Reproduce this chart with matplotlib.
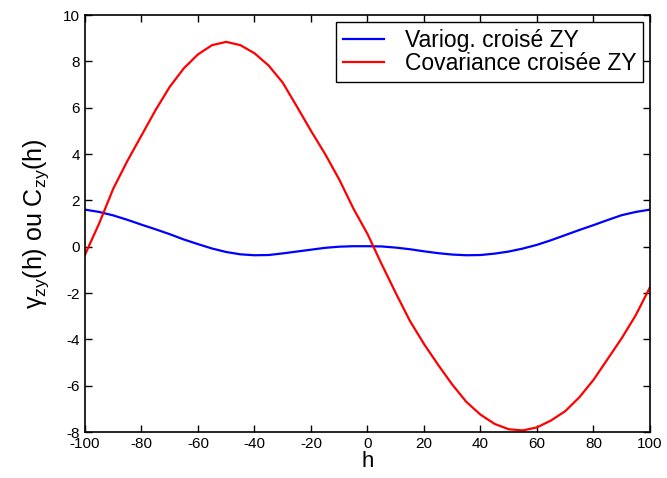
import matplotlib
matplotlib.use('Agg')
import matplotlib.pyplot as plt

plt.rcParams['font.family'] = ['Liberation Sans', 'DejaVu Sans']
plt.rcParams['mathtext.fontset'] = 'custom'
plt.rcParams['mathtext.rm'] = 'Liberation Sans'
plt.rcParams['mathtext.it'] = 'Liberation Sans'
plt.rcParams['mathtext.bf'] = 'Liberation Sans:bold'
plt.rcParams['axes.unicode_minus'] = False

# lags h
h = [-100, -95, -90, -85, -80, -75, -70, -65, -60, -55, -50, -45, -40, -35,
     -30, -25, -20, -15, -10, -5, 0, 5, 10, 15, 20, 25, 30, 35, 40, 45, 50,
     55, 60, 65, 70, 75, 80, 85, 90, 95, 100]

# cross variogram ZY
gamma_zy = [1.6, 1.5, 1.35, 1.16, 0.95, 0.75, 0.54, 0.31, 0.11, -0.08, -0.23,
            -0.33, -0.37, -0.36, -0.29, -0.21, -0.13, -0.05, 0.0, 0.02, 0.02,
            0.01, -0.04, -0.11, -0.2, -0.28, -0.34, -0.37, -0.36, -0.3, -0.21,
            -0.08, 0.08, 0.28, 0.5, 0.72, 0.93, 1.15, 1.36, 1.5, 1.6]

# cross covariance ZY
c_zy = [-0.35, 1.0, 2.5, 3.7, 4.8, 5.9, 6.9, 7.7, 8.3, 8.7, 8.84, 8.7, 8.35,
        7.82, 7.08, 6.05, 5.0, 4.0, 2.9, 1.65, 0.55, -0.75, -2.0, -3.2, -4.2,
        -5.1, -5.95, -6.7, -7.25, -7.65, -7.88, -7.93, -7.8, -7.5, -7.1, -6.5,
        -5.75, -4.85, -3.95, -2.95, -1.75]

xticks = list(range(-100, 101, 20))
yticks = list(range(-8, 11, 2))

fig = plt.figure(figsize=(6.67, 4.78), dpi=100)
ax = fig.add_axes([0.1274, 0.0962, 0.8471, 0.8724])

ax.plot(h, gamma_zy, color='blue', lw=1.6, label='Variog. croisé ZY')
ax.plot(h, c_zy, color='red', lw=1.6, label='Covariance croisée ZY')

ax.set_xlim(-100, 100)
ax.set_ylim(-8, 10)
ax.set_xticks(xticks)
ax.set_yticks(yticks)
ax.tick_params(direction='in', top=True, right=True, labelsize=11,
               length=5, width=1)
for s in ax.spines.values():
    s.set_linewidth(1.2)

ax.set_xlabel('h', fontsize=16, labelpad=0)
ax.set_ylabel(r'$\gamma_{zy}$(h) ou C$_{zy}$(h)', fontsize=18, labelpad=9)

leg = ax.legend(loc='upper right', fontsize=16.5, fancybox=False,
                edgecolor='black', framealpha=1, handlelength=1.8,
                handletextpad=0.9, borderaxespad=0.3, borderpad=0.3,
                labelspacing=0.0)
leg.get_frame().set_linewidth(1.0)

fig.savefig('out.png', dpi=100)
